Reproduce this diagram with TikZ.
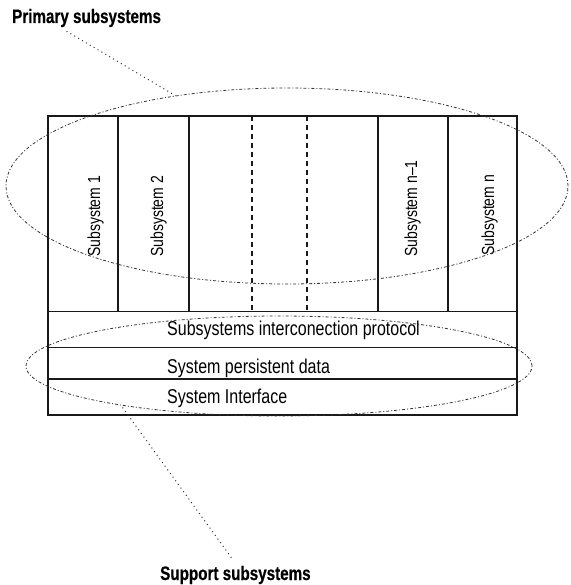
\documentclass[tikz,border=0pt]{standalone}
\usepackage{fontspec}
\setmainfont{Liberation Sans}[FakeStretch=0.8]
\newfontfamily\labelfont{Liberation Sans}[FakeStretch=0.78, BoldFeatures={FakeBold=0.5}]
\usepackage{tikz}
\usetikzlibrary{shapes.geometric}
\tikzstyle{frame}=[line width=1.1pt, color=black!90]
\tikzstyle{split}=[line width=1.1pt, color=black!90, dash pattern=on 5pt off 4pt]
\tikzstyle{group}=[ellipse, draw=black!80, line width=0.8pt, dash pattern=on 3pt off 2pt on 1pt off 2pt, inner sep=0pt]
\tikzstyle{pointer}=[line width=1pt, color=black!80, dash pattern=on 1pt off 3.5pt]
\tikzstyle{sub}=[rotate=90, anchor=base west, inner sep=0pt, font=\fontsize{17.5}{19}\selectfont]
\tikzstyle{layer}=[anchor=base west, inner sep=0pt, font=\fontsize{20}{22}\selectfont]
\tikzstyle{caption}=[inner sep=0pt, font=\labelfont\bfseries\fontsize{19.5}{21}\selectfont]

\begin{document}
\begin{tikzpicture}[x=1pt, y=-1pt]
\useasboundingbox (0,0) rectangle (570,585);

% boxes
\draw[frame] (48,116) rectangle (517,415);
\draw[frame] (48,311.5) -- (517,311.5);
\draw[frame] (48,347.5) -- (517,347.5);
\draw[frame] (48,379) -- (517,379);
\foreach \x in {118,189,378,448}
\draw[frame] (\x,116) -- (\x,311.5);
\foreach \x in {252,307}
\draw[split] (\x,116) -- (\x,311.5);

\node[sub] (s1) at (100,257) {Subsystem 1};
\node[sub] (s2) at (163,257) {Subsystem 2};
\node[sub] (sm) at (417,257) {Subsystem n--1};
\node[sub] (sn) at (494,256) {Subsystem n};

\node[layer] (proto) at (167,335) {Subsystems interconection protocol};
\node[layer] (data) at (167,373) {System persistent data};
\node[layer] (iface) at (167,403) {System Interface};

% groups
\node[group, minimum width=562pt, minimum height=196pt] (primary) at (287,186) {};
\node[group, minimum width=506pt, minimum height=100pt] (support) at (279,366) {};

\node[caption, anchor=base west] (plabel) at (12,23) {Primary subsystems};
\node[caption, anchor=base west] (slabel) at (160,580) {Support subsystems};

\draw[pointer] ([xshift=-20pt, yshift=-4pt]plabel.south) -- (primary.141);
\draw[pointer] ([xshift=-4pt, yshift=8pt]slabel.north) -- (support.194);
\end{tikzpicture}
\end{document}
